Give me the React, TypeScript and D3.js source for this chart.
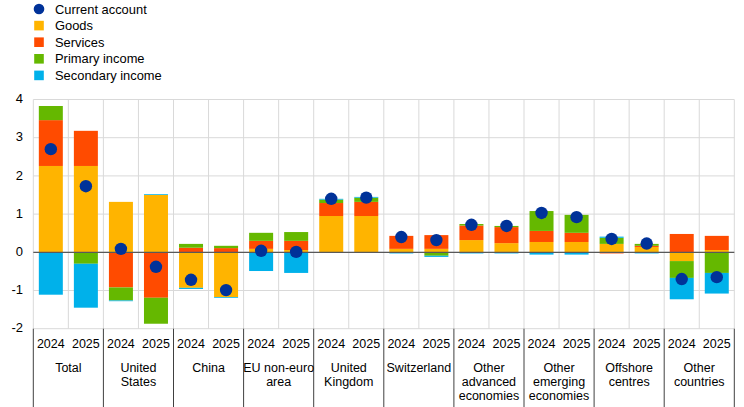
import React from 'react';
import * as d3 from 'd3';

const width = 744;
const height = 407;
const margin = { left: 33.3, right: 9.7, top: 99.5, bottom: 78.3 };

const categories = [
  'Total', 'United States', 'China', 'EU non-euro area', 'United Kingdom',
  'Switzerland', 'Other advanced economies', 'Other emerging economies', 'Offshore centres', 'Other countries',
];
const categoryLines = [
  ['Total'], ['United', 'States'], ['China'], ['EU non-euro', 'area'], ['United', 'Kingdom'],
  ['Switzerland'], ['Other', 'advanced', 'economies'], ['Other', 'emerging', 'economies'], ['Offshore', 'centres'], ['Other', 'countries'],
];
const years = ['2024', '2025'];

// one value per category and year, in the order of categories x years
const goods = [2.26, 2.26, 1.32, 1.50, -0.93, -1.17, 0.09, 0.06, 0.95, 0.95, 0.09, 0.09, 0.32, 0.24, 0.27, 0.27, 0.22, 0.14, -0.23, 0.06];
const services = [1.20, 0.92, -0.92, -1.19, 0.12, 0.11, 0.21, 0.24, 0.34, 0.37, 0.34, 0.36, 0.38, 0.42, 0.29, 0.24, -0.03, 0.03, 0.48, 0.37];
const primaryIncome = [0.37, -0.30, -0.34, -0.68, 0.10, 0.06, 0.21, 0.23, 0.09, 0.11, 0.00, -0.09, 0.04, 0.03, 0.52, 0.47, 0.16, 0.05, -0.44, -0.54];
const secondaryIncome = [-1.11, -1.15, -0.02, 0.02, -0.03, -0.02, -0.49, -0.54, 0.02, 0.02, -0.03, -0.03, -0.03, -0.03, -0.06, -0.06, 0.03, -0.03, -0.56, -0.54];
const currentAccount = [2.70, 1.73, 0.09, -0.38, -0.72, -0.99, 0.04, 0.01, 1.40, 1.43, 0.40, 0.32, 0.72, 0.69, 1.03, 0.92, 0.35, 0.23, -0.70, -0.65];

const yTicks = [-2, -1, 0, 1, 2, 3, 4];

const series = [
  { key: 'goods', label: 'Goods', color: '#ffb400', values: goods },
  { key: 'services', label: 'Services', color: '#ff4b00', values: services },
  { key: 'primary', label: 'Primary income', color: '#65b800', values: primaryIncome },
  { key: 'secondary', label: 'Secondary income', color: '#00b1ea', values: secondaryIncome },
];
const dotColor = '#003299';
const font = '"Liberation Sans", Arial, sans-serif';

type Row = { cat: string; year: string; [k: string]: any };

export default function App() {
  const rows: Row[] = [];
  categories.forEach((c, ci) => years.forEach((yr, yi) => {
    const i = ci * years.length + yi;
    const r: Row = { cat: c, year: yr, ca: currentAccount[i] };
    series.forEach(s => { r[s.key] = s.values[i]; });
    rows.push(r);
  }));

  const x0 = d3.scaleBand().domain(categories).range([margin.left, width - margin.right]);
  const x1 = d3.scaleBand().domain(years).range([0, x0.bandwidth()]);
  const y = d3.scaleLinear().domain([-2, 4]).range([height - margin.bottom, margin.top]);

  const stacked = d3.stack<Row>()
    .keys(series.map(s => s.key))
    .offset(d3.stackOffsetDiverging)(rows);

  const barW = 24;
  const bx = (r: Row) => (x0(r.cat) as number) + (x1(r.year) as number) + (x1.bandwidth() - barW) / 2;
  const cx = (r: Row) => (x0(r.cat) as number) + (x1(r.year) as number) + x1.bandwidth() / 2;

  const plotTop = y(4);
  const plotBottom = y(-2);
  const vLines: number[] = [];
  categories.forEach(c => years.forEach(yr => vLines.push((x0(c) as number) + (x1(yr) as number))));
  vLines.push(width - margin.right);

  const legend = [
    { label: 'Current account', color: dotColor, dot: true },
    ...series.map(s => ({ label: s.label, color: s.color, dot: false })),
  ];

  return (
    <svg width={width} height={height} style={{ position: 'absolute', left: 0, top: 0 }} fontFamily={font}>
      {/* legend */}
      {legend.map((l, i) => {
        const ly = 9 + i * 16.6;
        return (
          <g key={l.label}>
            {l.dot
              ? <circle cx={39} cy={ly} r={5.3} fill={l.color} />
              : <rect x={34.2} y={ly - 4.8} width={9.6} height={9.6} fill={l.color} />}
            <text x={55} y={ly} dy="0.35em" fontSize={12.9} fill="#000">{l.label}</text>
          </g>
        );
      })}

      {/* grid */}
      {yTicks.map(t => (
        <line key={'h' + t} x1={margin.left} x2={width - margin.right} y1={y(t)} y2={y(t)} stroke="#d9d9d9" />
      ))}
      {vLines.map((vx, i) => (
        <line key={'v' + i} x1={vx} x2={vx} y1={plotTop} y2={plotBottom} stroke="#d9d9d9" />
      ))}

      {/* bars */}
      {stacked.map((layer, si) => (
        <g key={layer.key} fill={series[si].color}>
          {layer.map((d, i) => {
            const top = y(Math.max(d[0], d[1]));
            const h = Math.abs(y(d[0]) - y(d[1]));
            return h > 0 ? <rect key={i} x={bx(rows[i])} y={top} width={barW} height={h} /> : null;
          })}
        </g>
      ))}

      {/* zero line */}
      <line x1={margin.left} x2={width - margin.right} y1={y(0)} y2={y(0)} stroke="#595959" strokeWidth={1.2} />

      {/* current account dots */}
      {rows.map((r, i) => (
        <circle key={'d' + i} cx={cx(r)} cy={y(r.ca)} r={6.2} fill={dotColor} />
      ))}

      {/* y axis labels */}
      {yTicks.map(t => (
        <text key={'yl' + t} x={23} y={y(t) - 0.8} dy="0.35em" textAnchor="end" fontSize={13} fill="#000">{t}</text>
      ))}

      {/* category axis */}
      {categories.map(c => (
        <line key={'s' + c} x1={x0(c)} x2={x0(c)} y1={plotBottom} y2={height} stroke="#404040" />
      ))}
      <line x1={width - margin.right} x2={width - margin.right} y1={plotBottom} y2={height} stroke="#404040" />
      {rows.map((r, i) => (
        <text key={'yr' + i} x={cx(r)} y={348} textAnchor="middle" fontSize={12.5} fill="#000">{r.year}</text>
      ))}
      {categories.map((c, ci) => (
        <text key={'c' + c} x={(x0(c) as number) + x0.bandwidth() / 2} y={371.5} textAnchor="middle" fontSize={12.5} fill="#000">
          {categoryLines[ci].map((ln, li) => (
            <tspan key={li} x={(x0(c) as number) + x0.bandwidth() / 2} dy={li === 0 ? 0 : 14.4}>{ln}</tspan>
          ))}
        </text>
      ))}
    </svg>
  );
}
